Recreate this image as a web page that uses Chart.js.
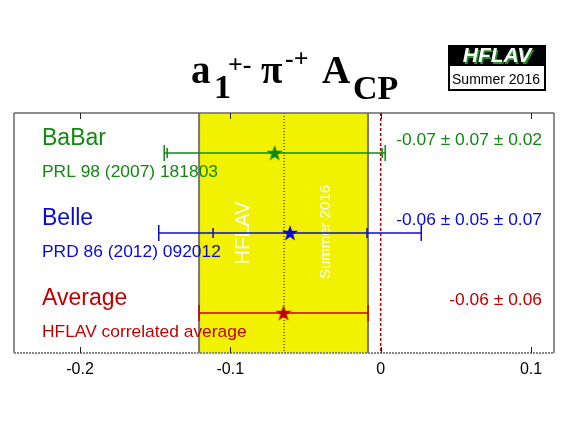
<!DOCTYPE html>
<html>
<head>
<meta charset="utf-8">
<script src="https://cdn.jsdelivr.net/npm/chart.js@4"></script>
<style>
  html, body { margin: 0; padding: 0; background: #fff; }
  #wrap { width: 567px; height: 425px; position: relative; }
</style>
</head>
<body>
<div id="wrap"><canvas id="chart"></canvas></div>
<script>
// measurements (value, stat error, total error)
const experiments = ["BaBar", "Belle"]
const references = ["PRL 98 (2007) 181803", "PRD 86 (2012) 092012"]
const resultTexts = ["-0.07 \u00b1 0.07 \u00b1 0.02", "-0.06 \u00b1 0.05 \u00b1 0.07"]
const centralValues = [-0.0705, -0.0603]
const statErrors = [0.0715, 0.0512]
const totalErrors = [0.0735, 0.0873]
const rowPositions = [5, 3]
const colors = ["#118811", "#0b0bd0"]

const avgValue = -0.0646
const avgError = 0.0562
const avgRow = 1
const avgText = "-0.06 \u00b1 0.06"
const avgColor = "#c00000"

const tickValues = [-0.2, -0.1, 0, 0.1]
const tickLabels = ["-0.2", "-0.1", "0", "0.1"]

// filled star used as point style
function makeStar(color) {
  const c = document.createElement("canvas")
  c.width = 18
  c.height = 18
  const g = c.getContext("2d")
  g.fillStyle = color
  g.beginPath()
  for (let i = 0; i < 10; i++) {
    const r = i % 2 === 0 ? 8.5 : 3.4
    const a = -Math.PI / 2 + i * Math.PI / 5
    const px = 9 + r * Math.cos(a)
    const py = 9.5 + r * Math.sin(a)
    if (i === 0) g.moveTo(px, py)
    else g.lineTo(px, py)
  }
  g.closePath()
  g.fill()
  return c
}

const sans = "'Liberation Sans', Arial, sans-serif"
const serif = "'Liberation Serif', 'Times New Roman', serif"

function vline(ctx, x, y1, y2) {
  ctx.beginPath()
  ctx.moveTo(x, y1)
  ctx.lineTo(x, y2)
  ctx.stroke()
}

function drawErrorBar(ctx, xs, y, value, stat, total, color) {
  ctx.save()
  ctx.strokeStyle = color
  ctx.lineWidth = 1.5
  const lo = xs.getPixelForValue(value - total)
  const hi = xs.getPixelForValue(value + total)
  ctx.beginPath()
  ctx.moveTo(lo, y)
  ctx.lineTo(hi, y)
  ctx.stroke()
  vline(ctx, lo, y - 8, y + 8)
  vline(ctx, hi, y - 8, y + 8)
  if (stat !== null) {
    vline(ctx, xs.getPixelForValue(value - stat), y - 5, y + 5)
    vline(ctx, xs.getPixelForValue(value + stat), y - 5, y + 5)
  }
  ctx.restore()
}

const hflavPlugin = {
  id: "hflav",
  beforeDatasetsDraw(chart) {
    const ctx = chart.ctx
    const area = chart.chartArea
    const xs = chart.scales.x
    const ys = chart.scales.y

    // average band
    const bl = xs.getPixelForValue(avgValue - avgError)
    const br = xs.getPixelForValue(avgValue + avgError)
    ctx.save()
    ctx.fillStyle = "#f2f200"
    ctx.fillRect(bl, area.top, br - bl, area.bottom - area.top)
    ctx.strokeStyle = "#777"
    ctx.lineWidth = 2
    vline(ctx, bl, area.top, area.bottom)
    vline(ctx, br, area.top, area.bottom)

    // watermark inside band
    ctx.fillStyle = "#fff"
    ctx.textAlign = "center"
    ctx.textBaseline = "middle"
    ctx.save()
    ctx.translate(243, 233)
    ctx.rotate(-Math.PI / 2)
    ctx.font = "20px " + sans
    ctx.fillText("HFLAV", 0, 0)
    ctx.restore()
    ctx.save()
    ctx.translate(326, 232)
    ctx.rotate(-Math.PI / 2)
    ctx.font = "15px " + sans
    ctx.fillText("Summer 2016", 0, 0)
    ctx.restore()

    // average (dotted) and zero (dashed) lines
    ctx.strokeStyle = "#000"
    ctx.lineWidth = 1
    ctx.setLineDash([1, 2])
    vline(ctx, xs.getPixelForValue(avgValue) + 0.5, area.top, area.bottom)
    ctx.strokeStyle = "#b00000"
    ctx.lineWidth = 1.5
    ctx.setLineDash([3, 2])
    vline(ctx, xs.getPixelForValue(0), area.top, area.bottom)
    ctx.setLineDash([])

    // error bars
    experiments.forEach((name, i) => {
      drawErrorBar(ctx, xs, ys.getPixelForValue(rowPositions[i]), centralValues[i], statErrors[i], totalErrors[i], colors[i])
    })
    drawErrorBar(ctx, xs, ys.getPixelForValue(avgRow), avgValue, null, avgError, avgColor)
    ctx.restore()
  },
  afterDraw(chart) {
    const ctx = chart.ctx
    const area = chart.chartArea
    const xs = chart.scales.x
    const ys = chart.scales.y
    ctx.save()

    // frame
    ctx.strokeStyle = "#666"
    ctx.lineWidth = 1.5
    vline(ctx, area.left, area.top, area.bottom)
    vline(ctx, area.right, area.top, area.bottom)
    ctx.beginPath()
    ctx.moveTo(area.left, area.top)
    ctx.lineTo(area.right, area.top)
    ctx.stroke()
    // bottom axis looks dashed from the dense minor ticks
    ctx.strokeStyle = "#888"
    ctx.lineWidth = 2
    ctx.setLineDash([2, 1])
    ctx.beginPath()
    ctx.moveTo(area.left, area.bottom)
    ctx.lineTo(area.right, area.bottom)
    ctx.stroke()
    ctx.setLineDash([])
    ctx.strokeStyle = "#222"
    ctx.lineWidth = 1
    tickValues.forEach(v => {
      const px = Math.round(xs.getPixelForValue(v)) + 0.5
      vline(ctx, px, area.top, area.top + 6)
      vline(ctx, px, area.bottom, area.bottom - 6)
    })

    // labels on the left and results on the right
    ctx.textBaseline = "alphabetic"
    ctx.textAlign = "left"
    experiments.forEach((name, i) => {
      const y = ys.getPixelForValue(rowPositions[i])
      ctx.fillStyle = colors[i]
      ctx.font = "23px " + sans
      ctx.fillText(name, 42, y - 8)
      ctx.font = "17.4px " + sans
      ctx.fillText(references[i], 42, y + 24)
      ctx.textAlign = "right"
      ctx.fillText(resultTexts[i], 542, y - 8)
      ctx.textAlign = "left"
    })
    const ay = ys.getPixelForValue(avgRow)
    ctx.fillStyle = avgColor
    ctx.font = "23px " + sans
    ctx.fillText("Average", 42, ay - 8)
    ctx.font = "17.4px " + sans
    ctx.fillText("HFLAV correlated average", 42, ay + 24)
    ctx.textAlign = "right"
    ctx.fillText(avgText, 542, ay - 8)

    // title a1+- pi-+ A_CP
    ctx.textAlign = "left"
    ctx.fillStyle = "#000"
    ctx.font = "bold 39px " + serif
    ctx.fillText("a", 191, 83)
    ctx.fillText("\u03c0", 261, 83)
    ctx.fillText("A", 322, 83)
    ctx.font = "bold 34px " + serif
    ctx.fillText("1", 214, 98)
    ctx.fillText("CP", 353, 99)
    ctx.font = "bold 26px " + serif
    ctx.fillText("+-", 228, 73)
    ctx.fillText("-+", 285, 67)

    // HFLAV logo
    ctx.fillStyle = "#000"
    ctx.fillRect(448, 45, 98, 46)
    ctx.fillStyle = "#fff"
    ctx.fillRect(450, 66, 94, 23)
    ctx.font = "bold italic 21px " + sans
    ctx.textAlign = "center"
    ctx.fillStyle = "#1a9a1a"
    ctx.fillText("HFLAV", 498.5, 63.5)
    ctx.fillStyle = "#fff"
    ctx.fillText("HFLAV", 497, 62)
    ctx.fillStyle = "#000"
    ctx.font = "14px " + sans
    ctx.fillText("Summer 2016", 496, 84)
    ctx.restore()
  }
}

const datasets = experiments.map((name, i) => ({
  label: name,
  data: [{ x: centralValues[i], y: rowPositions[i] }],
  pointStyle: makeStar(colors[i]),
}))
datasets.push({
  label: "Average",
  data: [{ x: avgValue, y: avgRow }],
  pointStyle: makeStar(avgColor),
})

new Chart(document.getElementById("chart"), {
  type: "scatter",
  data: { datasets: datasets },
  options: {
    responsive: true,
    maintainAspectRatio: false,
    animation: false,
    layout: { padding: { top: 113, left: 14, right: 13, bottom: 0 } },
    plugins: { legend: { display: false }, tooltip: { enabled: false } },
    scales: {
      x: {
        type: "linear",
        min: -0.2439,
        max: 0.1153,
        afterBuildTicks: (scale) => {
          scale.ticks = tickValues.map(v => ({ value: v }))
        },
        afterFit: (scale) => { scale.height = 72 },
        grid: { display: false, drawTicks: false },
        border: { display: false },
        ticks: {
          padding: 7,
          color: "#000",
          font: { family: "Liberation Sans", size: 16 },
          callback: (v) => tickLabels[tickValues.indexOf(v)] ?? "",
        },
      },
      y: { display: false, min: 0, max: 6 },
    },
  },
  plugins: [hflavPlugin],
})
</script>
</body>
</html>
